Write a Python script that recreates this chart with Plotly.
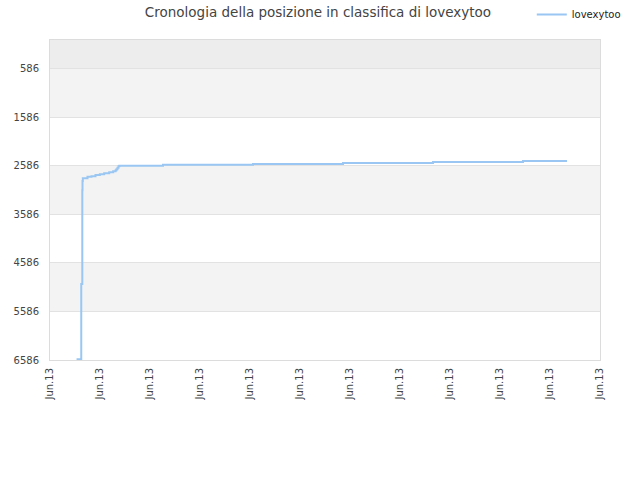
import plotly.graph_objects as go

# Data: timestamps and classification position (rank)
dates = [
    "2013-06-02 01:30", "2013-06-02 06:00", "2013-06-02 07:00", "2013-06-02 07:12",
    "2013-06-02 07:30", "2013-06-02 12:00", "2013-06-02 15:50", "2013-06-02 19:40",
    "2013-06-02 23:50", "2013-06-03 04:00", "2013-06-03 08:50", "2013-06-03 12:40",
    "2013-06-03 15:00", "2013-06-03 15:50", "2013-06-03 16:48", "2013-06-03 17:46",
    "2013-06-03 18:32", "2013-06-05 12:29", "2013-06-09 02:53", "2013-06-12 17:17",
    "2013-06-16 07:41", "2013-06-19 22:05", "2013-06-21 16:19",
]
positions = [
    6570, 5020, 3090, 2900,
    2843, 2816, 2802, 2781,
    2761, 2740, 2720, 2699,
    2680, 2660, 2630, 2600,
    2590, 2570, 2550, 2530,
    2510, 2490, 2490,
]
y_ticks = [586, 1586, 2586, 3586, 4586, 5586, 6586]
x_tick_dates = ["2013-06-%02d" % d for d in range(1, 24, 2)]
x_tick_label = "Jun.13"
series_name = "lovexytoo"
title_text = "Cronologia della posizione in classifica di lovexytoo"

fig = go.Figure()
fig.add_trace(go.Scatter(
    x=dates, y=positions, mode="lines", name=series_name,
    line=dict(color="#99c6f2", width=2, shape="hv"),
    showlegend=True,
))

# alternating bands
bands = [(0, 586, "#ededed"), (586, 1586, "#f3f3f3"), (2586, 3586, "#f3f3f3"), (4586, 5586, "#f3f3f3")]
shapes = []
for y0, y1, c in bands:
    shapes.append(dict(type="rect", xref="paper", yref="y", x0=0, x1=1, y0=y0, y1=y1,
                       fillcolor=c, line=dict(width=0), layer="below"))

fig.update_layout(
    width=640, height=480,
    margin=dict(l=50, r=40, t=40, b=120, autoexpand=False),
    paper_bgcolor="white", plot_bgcolor="white",
    font=dict(family="DejaVu Sans", size=10, color="#444444"),
    title=dict(text=title_text, x=318 / 640, xanchor="center", y=1 - 12 / 480, yanchor="middle",
               yref="container", font=dict(size=13.5, color="#444444")),
    shapes=shapes,
    showlegend=True,
    legend=dict(x=0.876, xanchor="left", y=1.08, yanchor="middle",
                font=dict(size=10, color="#222222"), bgcolor="rgba(0,0,0,0)"),
    xaxis=dict(type="date", range=["2013-06-01", "2013-06-23"],
               tickvals=x_tick_dates, ticktext=[x_tick_label] * len(x_tick_dates),
               tickangle=-90, showgrid=False, zeroline=False,
               showline=True, linecolor="#dcdcdc", mirror=True, ticks="",
               ticklabelstandoff=3),
    yaxis=dict(range=[6586, 0], tickvals=y_ticks, ticktext=[str(v) for v in y_ticks],
               showgrid=True, gridcolor="#e2e2e2", zeroline=False,
               showline=True, linecolor="#dcdcdc", mirror=True, ticks="",
               ticklabelstandoff=8),
)

fig.write_html("out.html", config={"displayModeBar": False},
               post_script="document.body.style.margin='0';")
